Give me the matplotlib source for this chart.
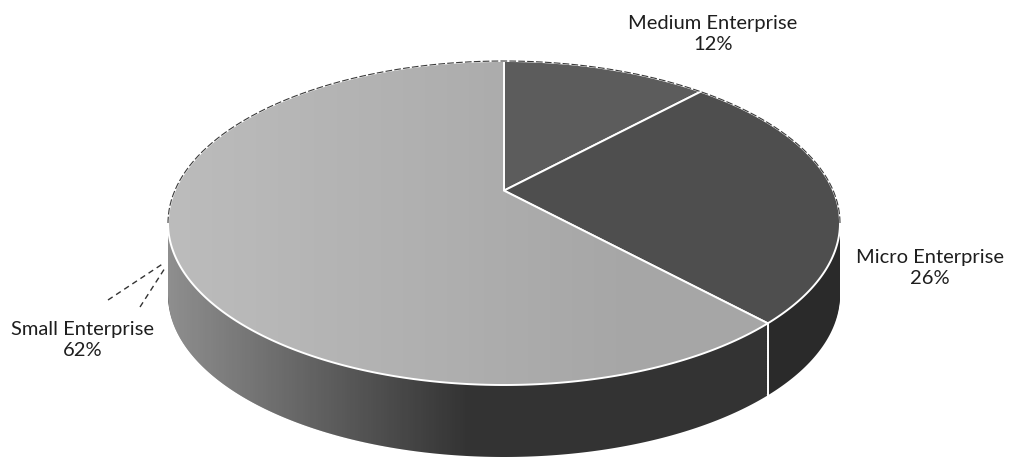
import numpy as np
import matplotlib.pyplot as plt
from matplotlib.path import Path
from matplotlib.patches import PathPatch
from matplotlib.transforms import Transform, Affine2D

# data
labels = ['Medium Enterprise', 'Micro Enterprise', 'Small Enterprise']
shares = [12, 26, 62]

top_colors = ['#5c5c5c', '#4e4e4e', '#a6a6a6']
side_colors = ['#343434', '#2a2a2a', '#333333']

W, H = 1012, 461
cx, cy = 504, 223      # pixel centre of the top ellipse
rx, ry = 336, 162      # pixel radii of the top ellipse
depth = 72 / ry        # thickness of the disc in y units
tilt = 0.2             # perspective: pie centre sits above the ellipse centre


class Tilt(Transform):
    """Perspective view of the unit disc; the rim maps onto the unit circle."""
    input_dims = output_dims = 2

    def __init__(self, k):
        super().__init__()
        self.k = k

    def transform_non_affine(self, xy):
        xy = np.asarray(xy, float)
        u, v = xy[:, 0], xy[:, 1]
        w = 1 + self.k * v
        return np.column_stack([np.sqrt(1 - self.k ** 2) * u / w, (v + self.k) / w])

    def transform_path_non_affine(self, path):
        # sample the curves finely before bending them
        tt = np.linspace(0, 1, 40)
        pts = []
        for seg, code in path.iter_bezier(simplify=False):
            if code == Path.MOVETO:
                pts.append(np.atleast_2d(seg.control_points[-1]))
            else:
                pts.append(seg(tt))
        return Path(self.transform_non_affine(np.concatenate(pts)))


def px(x, y):
    # pixel position -> data position
    return (x - cx) / rx, (cy - y) / ry


plt.rcParams['font.family'] = ['Lato', 'DejaVu Sans']

fig = plt.figure(figsize=(W / 100, H / 100), dpi=100)
ax = fig.add_axes([0, 0, 1, 1])
persp = Tilt(tilt)

# side of the disc: stacked copies of the pie, from bottom to top
n = 40
for k in range(n, 0, -1):
    ws, _ = ax.pie(shares, colors=side_colors, startangle=90, counterclock=False,
                   radius=1, frame=True, wedgeprops=dict(linewidth=0))
    tr = persp + Affine2D().translate(0, -depth * k / n) + ax.transData
    for w in ws:
        w.set_transform(tr)

# lighter left end of the side wall
t = np.linspace(np.pi, 2 * np.pi, 200)
verts = np.concatenate([np.c_[np.cos(t), np.sin(t)],
                        np.c_[np.cos(t[::-1]), np.sin(t[::-1]) - depth]])
side_patch = PathPatch(Path(verts), facecolor='none', edgecolor='none')
ax.add_patch(side_patch)
grad = np.linspace(0, 1, 256)[None, :]
shade = np.zeros((1, 256, 4))
shade[..., :3] = 1.0
shade[..., 3] = np.clip(0.45 * (1 - grad / 0.45), 0, 1)
im = ax.imshow(shade, extent=(-1, 1, -1 - depth, 0), aspect='auto',
               interpolation='bilinear', zorder=2)
im.set_clip_path(side_patch)

# top face
wedges, _ = ax.pie(shares, colors=top_colors, startangle=90, counterclock=False,
                   radius=1, frame=True,
                   wedgeprops=dict(edgecolor='white', linewidth=1.4))
for w in wedges:
    w.set_transform(persp + ax.transData)
    w.set_zorder(3)

# lighter left part of the big slice
top_shade = np.zeros((1, 256, 4))
top_shade[..., :3] = 1.0
top_shade[..., 3] = np.clip(0.25 * (1 - grad / 0.7), 0, 1)
im2 = ax.imshow(top_shade, extent=(-1, 1, -1, 1), aspect='auto',
                interpolation='bilinear', zorder=3.5)
im2.set_clip_path(wedges[2])

# white seam on the side wall where small and micro meet
ang = np.deg2rad(wedges[1].theta1)
sx, sy = persp.transform([[np.cos(ang), np.sin(ang)]])[0]
ax.plot([sx, sx], [sy, sy - depth], color='white', lw=1.4, zorder=4)

# thin dark outline of the back rim
tb = np.linspace(0, np.pi, 200)
ax.plot(np.cos(tb), np.sin(tb), color='#3a3a3a', lw=0.8, ls=(0, (6, 2)), zorder=4)

# labels
label_pos = [(713, 34), (930, 268), (83, 340)]
for lab, val, (lx, ly) in zip(labels, shares, label_pos):
    x, y = px(lx, ly)
    ax.text(x, y, f'{lab}\n{val}%', ha='center', va='center', fontsize=14.5,
            color='#1e1e1e', linespacing=1.3, zorder=5)

# dashed leader lines for the small slice
for (x0, y0), (x1, y1) in [((108, 300), (164, 263)), ((140, 307), (165, 268))]:
    a0, b0 = px(x0, y0)
    a1, b1 = px(x1, y1)
    ax.plot([a0, a1], [b0, b1], color='#333333', lw=1, ls=(0, (4, 3)), zorder=4)

ax.set_xlim(-cx / rx, (W - cx) / rx)
ax.set_ylim((cy - H) / ry, cy / ry)
ax.set_aspect('auto')
ax.axis('off')

fig.savefig('out.png', dpi=100, facecolor='white')
